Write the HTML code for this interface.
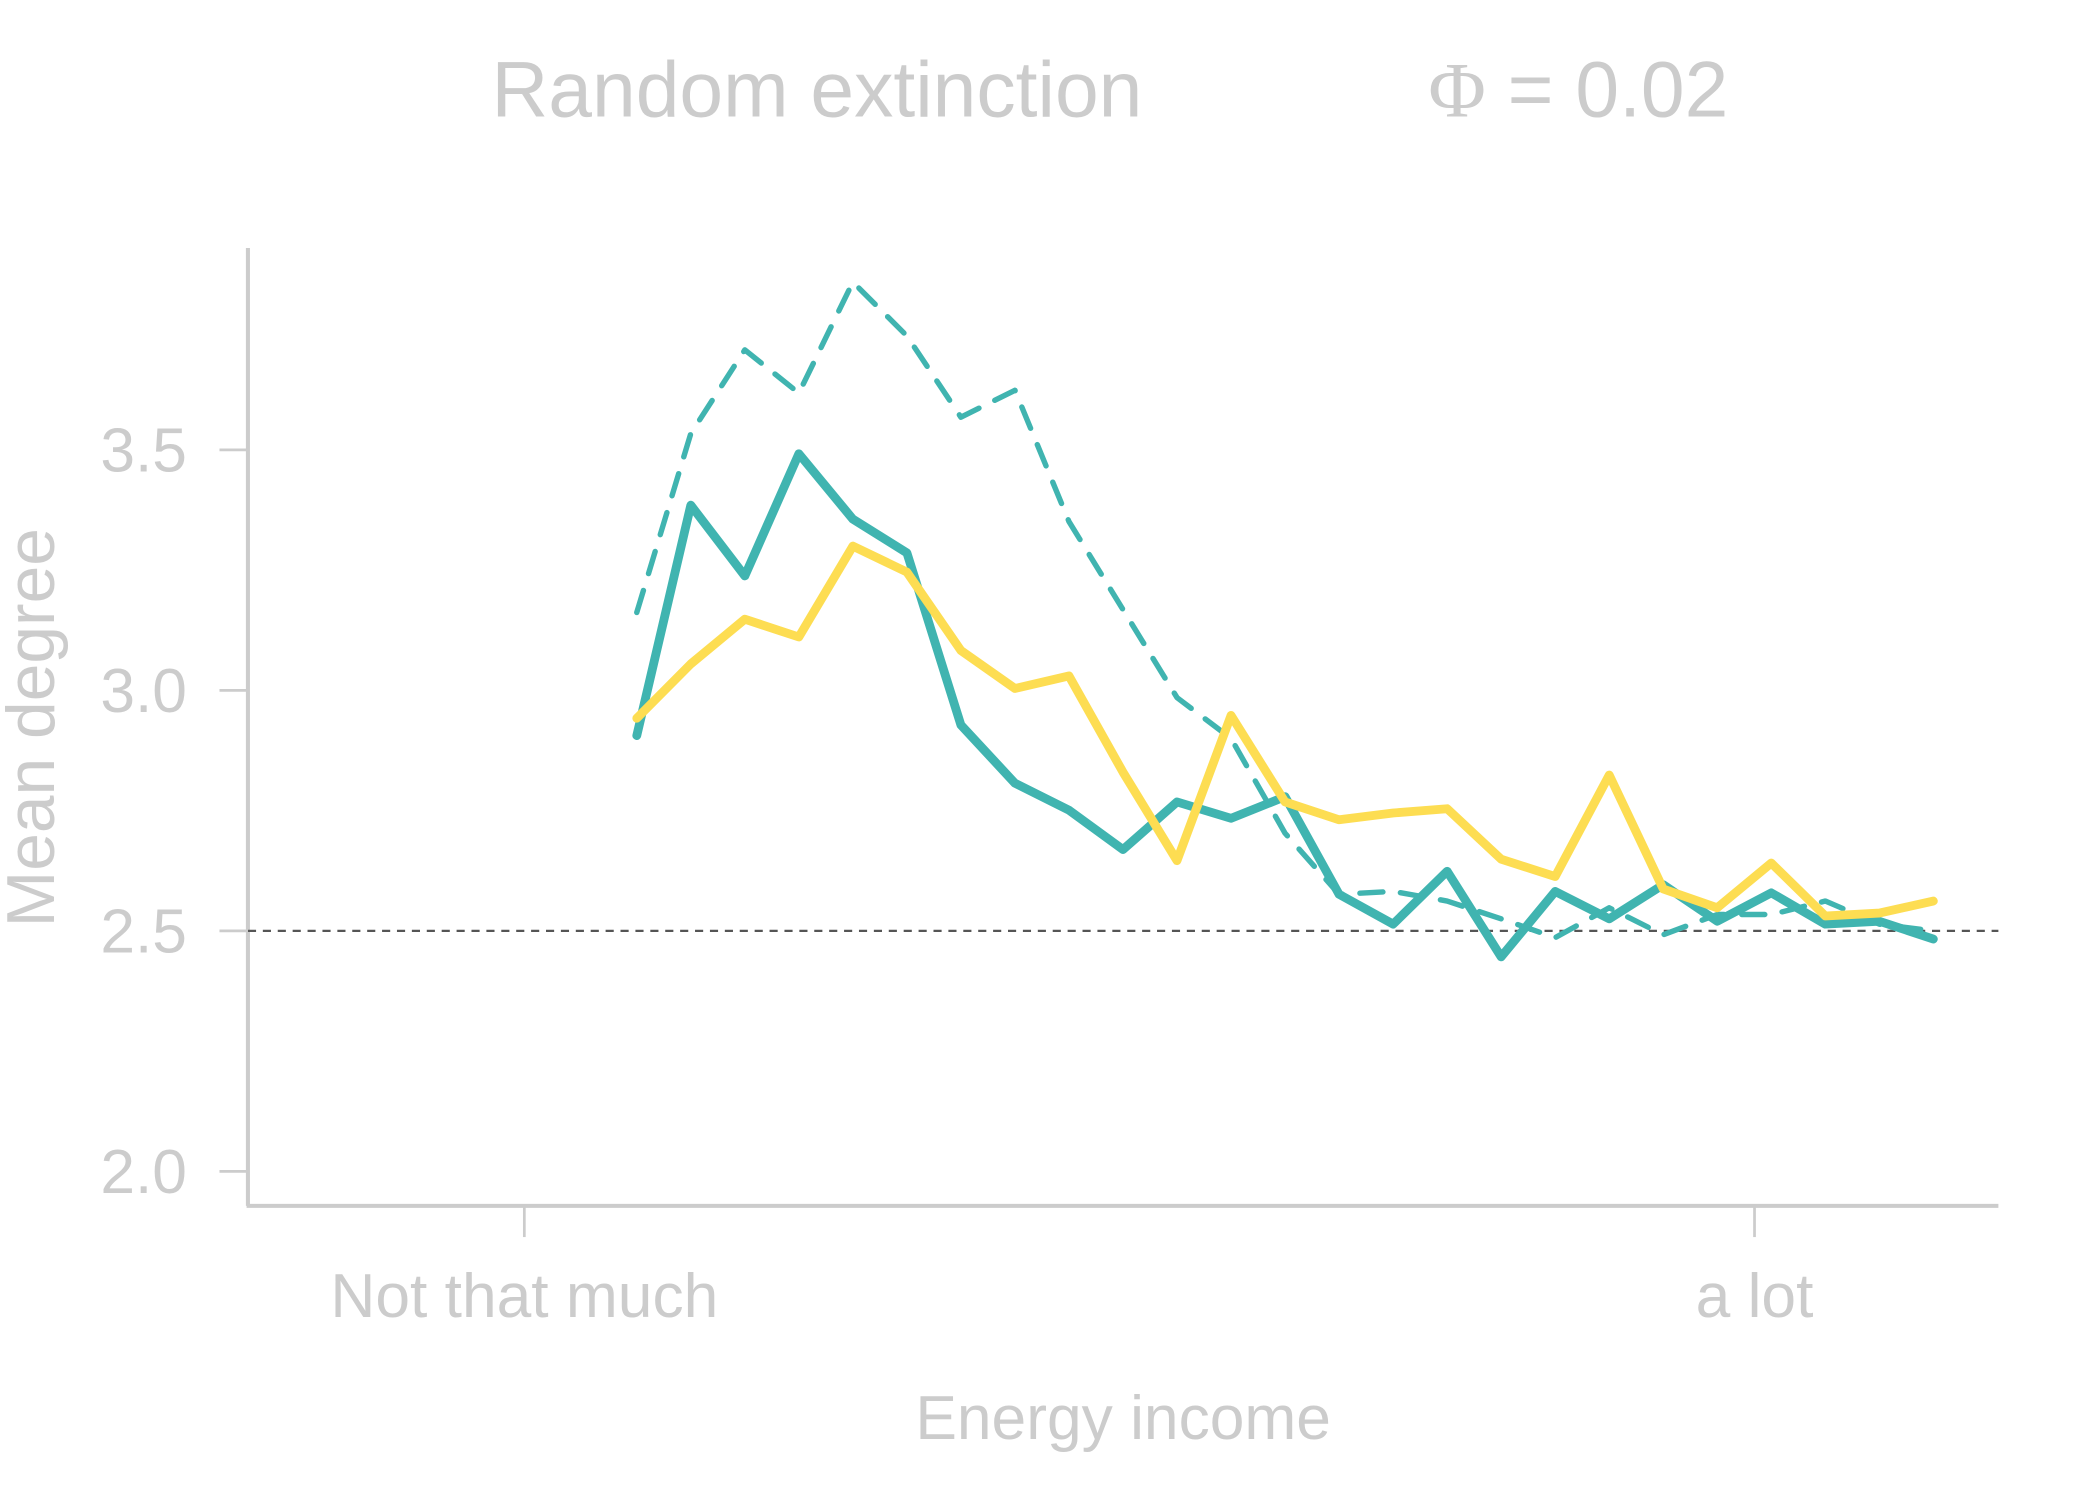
<!DOCTYPE html>
<html><head><meta charset="utf-8"><style>
html,body{margin:0;padding:0;background:#fff;}
svg{display:block;font-family:"Liberation Sans",sans-serif;}
</style></head><body>
<svg id="chart" width="2100" height="1500" viewBox="0 0 1550 1107" xmlns="http://www.w3.org/2000/svg">
<rect width="1550" height="1107" fill="#fff"/>
<text x="603" y="86" font-size="58" fill="#cccccc" text-anchor="middle">Random extinction</text>
<text x="1165" y="86" font-size="58" fill="#cccccc" text-anchor="middle"><tspan font-family="Liberation Serif, serif">Φ</tspan> = 0.02</text>
<line x1="183" y1="183" x2="183" y2="890" stroke="#cccccc" stroke-width="3"/>
<line x1="182" y1="890" x2="1475" y2="890" stroke="#cccccc" stroke-width="3"/>
<line x1="183" y1="687" x2="1475" y2="687" stroke="#555" stroke-width="1.6" stroke-dasharray="6,5"/>
<line x1="387" y1="890" x2="387" y2="913" stroke="#cccccc" stroke-width="2"/>
<line x1="1295" y1="890" x2="1295" y2="913" stroke="#cccccc" stroke-width="2"/>
<text x="387" y="972" font-size="46" fill="#cccccc" text-anchor="middle">Not that much</text>
<text x="1295" y="972" font-size="46" fill="#cccccc" text-anchor="middle">a lot</text>
<text x="829" y="1062" font-size="46" fill="#cccccc" text-anchor="middle">Energy income</text>
<text x="0" y="0" font-size="50" fill="#cccccc" text-anchor="middle" transform="translate(40,537) rotate(-90)">Mean degree</text>
<g id="yticks"></g>
<g id="series"></g>
</svg>
<script>
const yTicks = [2.0, 2.5, 3.0, 3.5];
const xCount = 25;
const solidTeal = [2.906,3.385,3.238,3.492,3.356,3.286,2.928,2.807,2.751,2.669,2.768,2.734,2.779,2.576,2.514,2.624,2.446,2.582,2.525,2.596,2.520,2.579,2.514,2.520,2.483];
const yellow = [2.942,3.055,3.148,3.111,3.300,3.246,3.083,3.004,3.030,2.830,2.646,2.948,2.768,2.731,2.745,2.754,2.649,2.613,2.824,2.587,2.548,2.641,2.531,2.537,2.562];
const dashedTeal = [3.162,3.534,3.708,3.618,3.849,3.737,3.568,3.624,3.351,3.168,2.985,2.900,2.703,2.576,2.582,2.562,2.525,2.486,2.548,2.492,2.534,2.534,2.562,2.514,2.500];

const NS = "http://www.w3.org/2000/svg";
function yScale(v){ return 687 - (v - 2.5) * 355; }
function xScale(i){ return 470 + i * (1427 - 470) / (xCount - 1); }

const tg = document.getElementById('yticks');
yTicks.forEach(t => {
  const l = document.createElementNS(NS,'line');
  l.setAttribute('x1',162); l.setAttribute('x2',183);
  l.setAttribute('y1',yScale(t)); l.setAttribute('y2',yScale(t));
  l.setAttribute('stroke','#cccccc'); l.setAttribute('stroke-width',2);
  
  
  tg.appendChild(l);
  const tx = document.createElementNS(NS,'text');
  tx.setAttribute('x',138); tx.setAttribute('y',yScale(t)+16);
  tx.setAttribute('font-size',46); tx.setAttribute('fill','#cccccc');
  tx.setAttribute('text-anchor','end');
  tx.textContent = t.toFixed(1);
  
  
  tg.appendChild(tx);
});

const sg = document.getElementById('series');
function drawLine(vals, color, width, dash, name){
  const p = document.createElementNS(NS,'polyline');
  p.setAttribute('points', vals.map((v,i)=>xScale(i)+','+yScale(v)).join(' '));
  p.setAttribute('fill','none');
  p.setAttribute('stroke',color);
  p.setAttribute('stroke-width',width);
  p.setAttribute('stroke-linejoin','round');
  p.setAttribute('stroke-linecap','round');
  if(dash) p.setAttribute('stroke-dasharray',dash);
  
  
  sg.appendChild(p);
}
drawLine(dashedTeal,'#40b4b0',4,'17,13','dashed-teal-series');
drawLine(solidTeal,'#40b4b0',6.5,null,'solid-teal-series');
drawLine(yellow,'#fddd52',6.5,null,'yellow-series');
</script>
</body></html>
